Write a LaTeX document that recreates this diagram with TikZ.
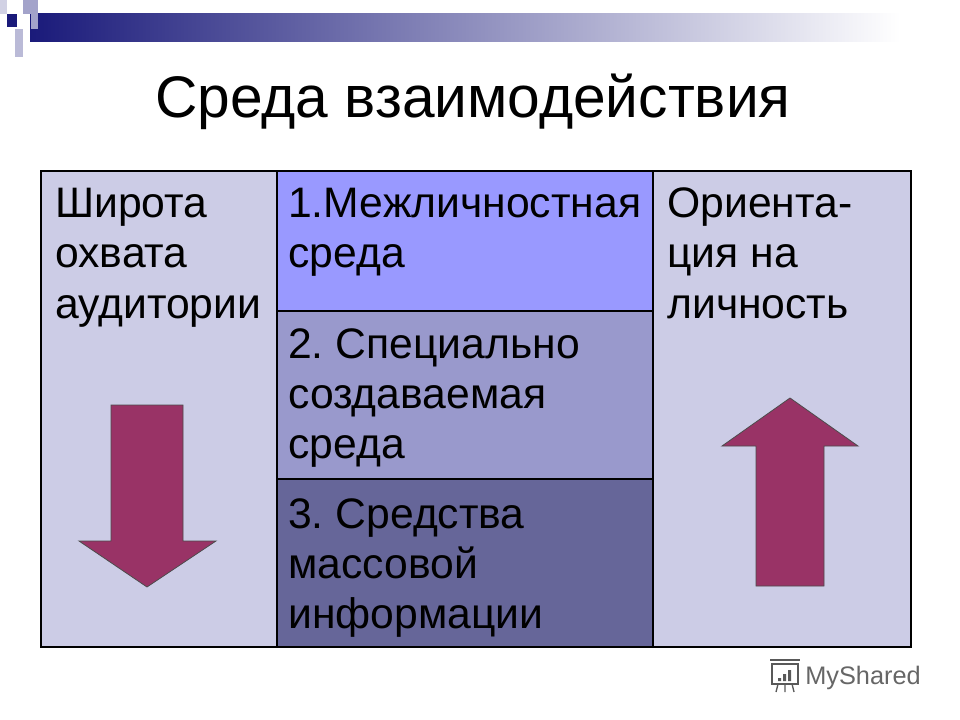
\documentclass[tikz,border=0pt]{standalone}
\usepackage{fontspec}
\setmainfont{Liberation Sans}
\frenchspacing
\begin{document}
\begin{tikzpicture}[x=0.75pt,y=-0.75pt,
  cell/.style={draw=black,line width=2.2pt},
  txt/.style={anchor=base west,font=\fontsize{32}{37.5}\selectfont,inner sep=0pt},
  bigarrow/.style={fill=arrowc,draw=black!70,line width=0.6pt}]
\definecolor{side}{HTML}{CCCCE6}
\definecolor{rowa}{HTML}{9999FF}
\definecolor{rowb}{HTML}{9999CC}
\definecolor{rowc}{HTML}{666699}
\definecolor{arrowc}{HTML}{993366}
\definecolor{navy}{HTML}{1A1A7A}
\useasboundingbox (0,0) rectangle (960,720);
% top decoration
\shade[left color=navy,right color=white] (30,14) rectangle (900,42);
\fill[navy] (7,14) rectangle (17,27);
\fill[navy!40] (23,0) rectangle (38,14);
\fill[navy!40] (31,14) rectangle (38,29);
\fill[navy!30] (15,29) rectangle (23,57);
\fill[navy!20] (0,0) rectangle (7,14);
% table
\fill[side] (41,171) rectangle (277,647);
\fill[side] (653,171) rectangle (911,647);
\fill[rowa] (277,171) rectangle (653,311);
\fill[rowb] (277,311) rectangle (653,479);
\fill[rowc] (277,479) rectangle (653,647);
\draw[black,line width=0.8pt] (277,311) -- (653,311) (277,479) -- (653,479);
\draw[black,line width=0.8pt] (277,171) -- (277,647) (653,171) -- (653,647);
\draw[cell] (41,171) rectangle (911,647);
% title
\node[anchor=base,font=\fontsize{44}{48}\selectfont,inner sep=0pt] (title) at (473,118) {Среда взаимодействия};
% texts
\node[txt] (l1) at (55,218) {Широта};
\node[txt] (l2) at (55,268) {охвата};
\node[txt] (l3) at (55,318) {аудитории};
\node[txt] (m1) at (288,218) {1.Межличностная};
\node[txt] (m2) at (288,268) {среда};
\node[txt] (m3) at (288,358) {2. Специально};
\node[txt] (m4) at (288,408) {создаваемая};
\node[txt] (m5) at (288,458) {среда};
\node[txt] (m6) at (288,528) {3. Средства};
\node[txt] (m7) at (288,578) {массовой};
\node[txt] (m8) at (288,628) {информации};
\node[txt] (r1) at (667,218) {Ориента-};
\node[txt] (r2) at (667,268) {ция на};
\node[txt] (r3) at (667,318) {личность};
% arrows
\draw[bigarrow] (111,405) -- (183,405) -- (183,541) -- (216,541) -- (147,587) -- (79,541) -- (111,541) -- cycle;
\draw[bigarrow] (756,586) -- (824,586) -- (824,446) -- (858,446) -- (790,398) -- (722,446) -- (756,446) -- cycle;
% logo
\begin{scope}[draw=black!65,line width=1pt]
\draw (772,664) rectangle (798,684);
\draw (770,660) -- (800,660);
\draw (778,684) -- (776,692) (785,684) -- (785,692) (792,684) -- (794,692);
\fill[black!65] (778,678) rectangle (781,681) (783,674) rectangle (786,681) (788,670) rectangle (791,681);
\end{scope}
\node[anchor=base west,font=\fontsize{19}{20}\selectfont,text=black!60,inner sep=0pt] (logo) at (805,684) {MyShared};
\end{tikzpicture}
\end{document}
